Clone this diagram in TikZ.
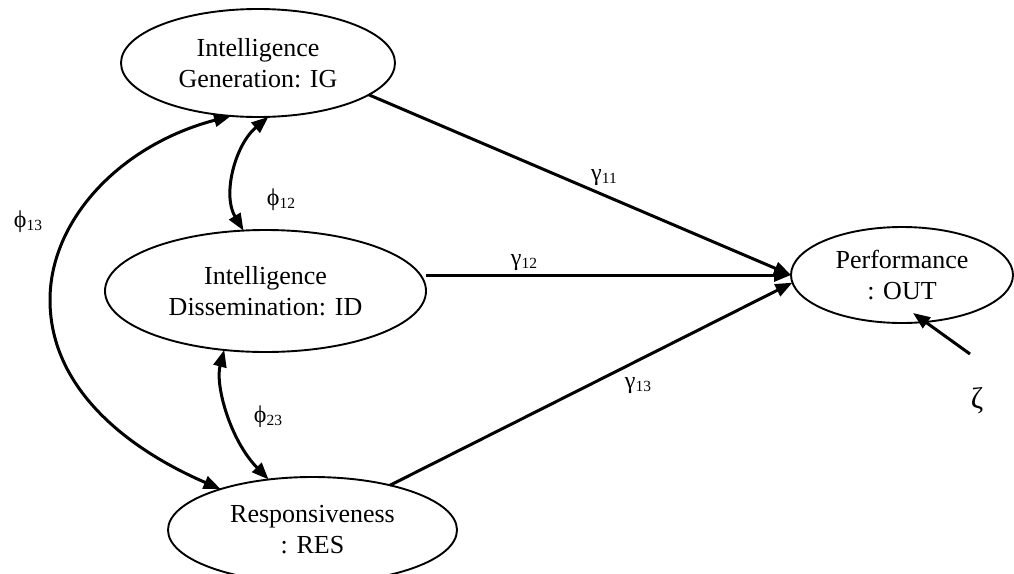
\documentclass[tikz,border=0pt]{standalone}
\usepackage{fontspec}
\setmainfont{Liberation Serif}
\usetikzlibrary{arrows.meta,shapes.geometric,calc}
\newcommand{\glab}[2]{{\fontsize{24}{24}\selectfont #1}{\fontsize{15.5}{15.5}\selectfont\raisebox{-3pt}{#2}}}
\begin{document}
\begin{tikzpicture}[x=1pt,y=-1pt,
  latent/.style={ellipse, draw, line width=1.9pt, inner sep=0pt, outer sep=0pt, align=center, font=\fontsize{26}{31}\selectfont},
  effect/.style={line width=3pt, -{Triangle[length=17pt,width=13pt]}},
  cov/.style={line width=3pt, {Triangle[length=17pt,width=13pt]}-{Triangle[length=17pt,width=13pt]}},
  lab/.style={inner sep=0pt}]
\clip (0,0) rectangle (1014,573);
\node[latent, minimum width=274pt, minimum height=108pt] (IG) at (258,63) {Intelligence\\Generation: IG};
\node[latent, minimum width=321pt, minimum height=122pt] (ID) at (265.5,291) {Intelligence\\Dissemination: ID};
\node[latent, minimum width=289pt, minimum height=106pt] (RES) at (312.5,530) {Responsiveness\\: RES};
\node[latent, minimum width=222pt, minimum height=96pt] (OUT) at (902,275) {Performance\\: OUT};

\node[lab] (p13) at (28,222) {\glab{ϕ}{13}};
\node[lab] (p12) at (281,200) {\glab{ϕ}{12}};
\node[lab] (p23) at (268,417) {\glab{ϕ}{23}};
\node[lab] (g11) at (604,178) {\glab{γ}{11}};
\node[lab] (g12) at (524,263) {\glab{γ}{12}};
\node[lab] (g13) at (638,386) {\glab{γ}{13}};
\node[lab, font=\fontsize{30}{30}\selectfont] (zeta) at (977,401) {ζ};
\coordinate (zs) at (970,354);

\draw[effect] (IG.344) -- (OUT.west);
\draw[effect] (ID.east |- OUT.west) -- (OUT.west);
\draw[effect] (RES.30) -- (OUT.184);
\draw[effect] (zs) -- ($(OUT.center)+(11,38)$);

\draw[cov] (IG.281) .. controls (235,145) and (222,195) .. (ID.110);
\draw[cov] (ID.235) .. controls (215,385) and (230,440) .. (RES.131);
\draw[cov] (IG.243) .. controls (120,145) and (50,220) .. (50,300)
  .. controls (50,390) and (130,450) .. (RES.156);
\end{tikzpicture}
\end{document}
